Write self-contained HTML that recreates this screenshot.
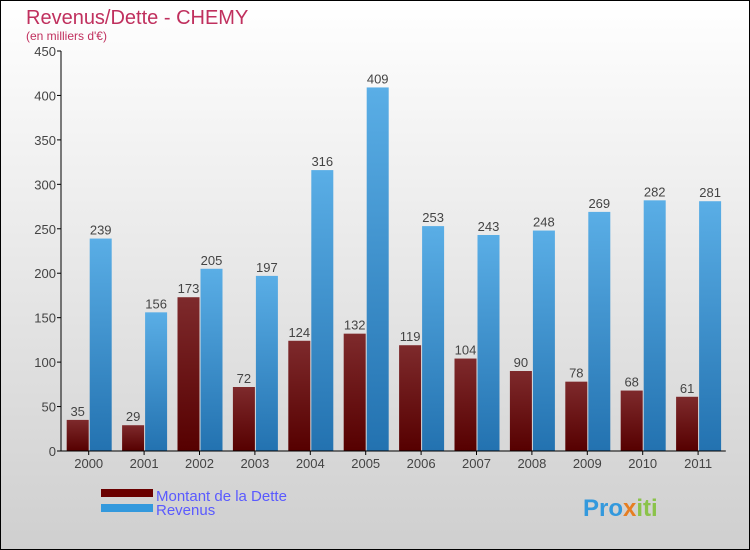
<!DOCTYPE html>
<html><head><meta charset="utf-8"><style>
body{margin:0}
#wrap{width:750px;height:550px;position:relative;box-sizing:border-box;border:1px solid #000;background:linear-gradient(#fff,#cfcfcf);font-family:"Liberation Sans",sans-serif;overflow:hidden}
</style></head><body>
<div id="wrap">
<svg id="svg" width="748" height="548" style="position:absolute;left:0;top:0">
<defs>
<linearGradient id="gd" x1="0" y1="0" x2="0" y2="1"><stop offset="0" stop-color="#7e2a2c"/><stop offset="1" stop-color="#560000"/></linearGradient>
<linearGradient id="gr" x1="0" y1="0" x2="0" y2="1"><stop offset="0" stop-color="#5aaee6"/><stop offset="1" stop-color="#2372b0"/></linearGradient>
</defs>
<text x="25" y="23" font-size="20" fill="#c0305e">Revenus/Dette - CHEMY</text>
<text x="25" y="39" font-size="12" fill="#c0305e">(en milliers d'€)</text>
<g id="plot"></g>
<rect x="100" y="488" width="52" height="8" fill="#6a0000"/>
<text x="155" y="500" font-size="15" fill="#5a5aff">Montant de la Dette</text>
<rect x="100" y="503" width="52" height="8" fill="#3399dd"/>
<text x="155" y="514" font-size="15" fill="#5a5aff">Revenus</text>
<text x="582" y="515" font-size="24" font-weight="bold" fill="#3399dd">Pro<tspan fill="#e67e22">x</tspan><tspan fill="#8bc34a">iti</tspan></text>
</svg>
</div>
<script>
const categories=["2000","2001","2002","2003","2004","2005","2006","2007","2008","2009","2010","2011"];
const detteValues=[35,29,173,72,124,132,119,104,90,78,68,61];
const revenusValues=[239,156,205,197,316,409,253,243,248,269,282,281];
const yTicks=[0,50,100,150,200,250,300,350,400,450];
const NS="http://www.w3.org/2000/svg";
const g=document.getElementById('plot');
const x0=60,step=55.4,yBase=450,yTop=50,yMax=450;
const y=v=>yBase-(v/yMax)*(yBase-yTop);
const cx=i=>x0+step*(i+0.5);
function mk(t,a){const e=document.createElementNS(NS,t);for(const k in a)e.setAttribute(k,a[k]);g.appendChild(e);return e;}
yTicks.forEach(t=>{
  const l=mk('line',{x1:x0-4,x2:x0,y1:y(t),y2:y(t),stroke:'#000'});
  
  
  const tx=mk('text',{x:x0-5,y:y(t)+5,'font-size':13,fill:'#444','text-anchor':'end'});
  tx.textContent=t;
  
  
});
categories.forEach((c,i)=>{
  const c0=cx(i);
  const d=mk('rect',{x:c0-22,y:y(detteValues[i]),width:22,height:yBase-y(detteValues[i]),fill:'url(#gd)'});
  
  
  const r=mk('rect',{x:c0+1,y:y(revenusValues[i]),width:22,height:yBase-y(revenusValues[i]),fill:'url(#gr)'});
  
  
  const dl=mk('text',{x:c0-11,y:y(detteValues[i])-4,'font-size':13,fill:'#444','text-anchor':'middle'});
  dl.textContent=detteValues[i];
  
  
  const rl=mk('text',{x:c0+12,y:y(revenusValues[i])-4,'font-size':13,fill:'#444','text-anchor':'middle'});
  rl.textContent=revenusValues[i];
  
  
  const tk=mk('line',{x1:c0,x2:c0,y1:yBase,y2:yBase+4,stroke:'#000'});
  
  
  const xl=mk('text',{x:c0,y:yBase+17,'font-size':13,fill:'#444','text-anchor':'middle'});
  xl.textContent=c;
  
  
});
const ya=mk('line',{x1:x0,x2:x0,y1:yTop,y2:yBase,stroke:'#000'});


const xa=mk('line',{x1:x0,x2:x0+step*12,y1:yBase,y2:yBase,stroke:'#000'});


</script>
</body></html>
